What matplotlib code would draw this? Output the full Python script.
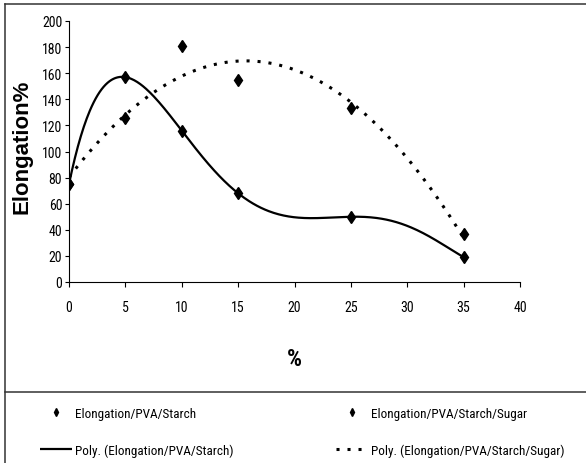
import numpy as np
import matplotlib.pyplot as plt
from matplotlib.lines import Line2D

# concentration (%) and measured elongation (%)
conc = [0, 5, 10, 15, 25, 35]
elong_starch = [75, 157, 116, 68, 50, 19]
elong_sugar = [75, 126, 181, 155, 133, 37]

x_ticks = [0, 5, 10, 15, 20, 25, 30, 35, 40]
y_ticks = [0, 20, 40, 60, 80, 100, 120, 140, 160, 180, 200]

narrow = ['Roboto Condensed', 'Liberation Sans', 'DejaVu Sans']
plt.rcParams['font.family'] = narrow

W, H = 586, 464
fig = plt.figure(figsize=(W / 100, H / 100), dpi=100)
ax = fig.add_axes([69 / W, 1 - 283 / H, 451 / W, 261 / H])

# polynomial trendlines (order 5 for starch, order 2 for sugar)
xs = np.linspace(0, 35, 400)
fit_starch = np.polyval(np.polyfit(conc, elong_starch, 5), xs)
fit_sugar = np.polyval(np.polyfit(conc, elong_sugar, 2), xs)

l1, = ax.plot(xs, fit_starch, color='black', lw=1.6, solid_capstyle='butt')
l2, = ax.plot(xs, fit_sugar, color='black', lw=2.2, ls=(0, (1, 2.6)))
p1, = ax.plot(conc, elong_starch, ls='none', marker='d', ms=6.5, color='black')
p2, = ax.plot(conc, elong_sugar, ls='none', marker='d', ms=6.5, color='black')

ax.set_xlim(0, 40)
ax.set_ylim(0, 200)
ax.set_xticks(x_ticks)
ax.set_yticks(y_ticks)
ax.spines['top'].set_visible(False)
ax.spines['right'].set_visible(False)
for s in ['left', 'bottom']:
    ax.spines[s].set_linewidth(0.8)
ax.tick_params(axis='x', direction='out', length=3.6, width=0.8, pad=9, labelsize=10)
ax.tick_params(axis='y', direction='out', length=2.9, width=0.8, pad=2, labelsize=10)

ax.set_xlabel('%', fontsize=17, fontweight='bold')
ax.xaxis.set_label_coords(0.5, -0.25)
ax.set_ylabel('Elongation%', family=['Liberation Sans', 'DejaVu Sans'],
              fontsize=16, fontweight='bold')
ax.yaxis.set_label_coords(-0.08, 0.52)

# legend, two columns
leg_kw = dict(frameon=False, fontsize=9.5, handlelength=2.4, handletextpad=0.25,
              labelspacing=1.75, borderpad=0, borderaxespad=0, loc='upper left',
              markerscale=0.6)
leg1 = fig.legend([p1, l1], ['Elongation/PVA/Starch', 'Poly. (Elongation/PVA/Starch)'],
                  bbox_to_anchor=(40 / W, 1 - 408 / H), **leg_kw)
leg2 = fig.legend([p2, l2], ['Elongation/PVA/Starch/Sugar', 'Poly. (Elongation/PVA/Starch/Sugar)'],
                  bbox_to_anchor=(336 / W, 1 - 408 / H), **leg_kw)

# outer frame and legend separator
frame_kw = dict(transform=fig.transFigure, color='#333333', lw=1.1)
fig.add_artist(Line2D([5 / W, 1], [1 - 5 / H, 1 - 5 / H], **frame_kw))
fig.add_artist(Line2D([5 / W, 5 / W], [0, 1 - 5 / H], **frame_kw))
fig.add_artist(Line2D([5 / W, 1], [1 - 393 / H, 1 - 393 / H], **frame_kw))

fig.savefig('out.png', dpi=100)
